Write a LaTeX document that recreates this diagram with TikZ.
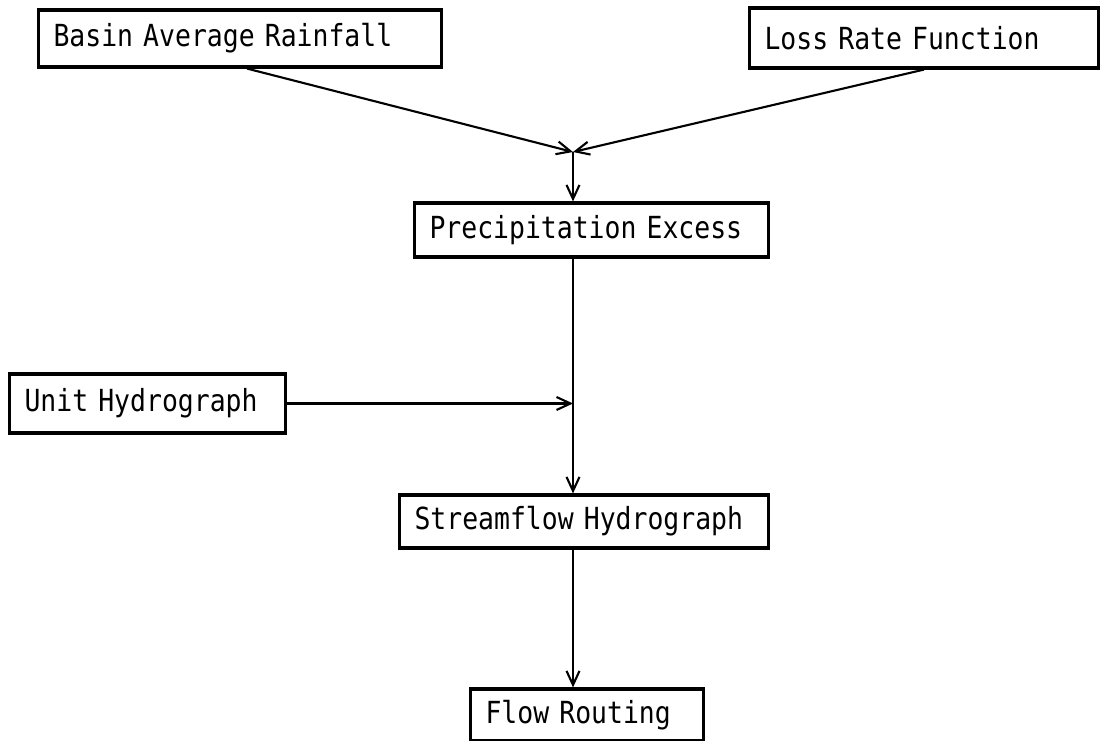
\documentclass[tikz,border=0pt]{standalone}
\usepackage{fontspec}
\newfontfamily\boxfont{DejaVu Sans Mono}[FakeStretch=0.87]
\usetikzlibrary{arrows.meta}

\begin{document}
\begin{tikzpicture}[font={\boxfont\fontsize{17.3}{20}\selectfont},
	box/.style={draw, line width=1.8pt, inner xsep=0.3cm, inner ysep=0pt, minimum height=1.1cm, align=left},
	link/.style={line width=1.2pt, arrows={-{Straight Barb[length=2.8mm,width=2.6mm]}}}]
	\useasboundingbox (0,0) rectangle (22.06,-14.82);
	\node [box, text width=7.46cm, minimum height=1.14cm] (basin) at (4.80,-0.77) {Basin Average Rainfall};
	\node [box, text width=6.38cm, minimum height=1.2cm] (loss) at (18.48,-0.76) {Loss Rate Function};
	\node [box, text width=6.48cm, minimum height=1.08cm] (precip) at (11.83,-4.60) {Precipitation Excess};
	\node [box, text width=4.92cm, minimum height=1.18cm] (unit) at (2.95,-8.07) {Unit Hydrograph};
	\node [box, text width=6.78cm, minimum height=1.06cm] (stream) at (11.68,-10.43) {Streamflow Hydrograph};
	\node [box, text width=4.06cm, minimum height=1.04cm] (routing) at (11.74,-14.30) {Flow Routing};
	\coordinate (junc) at (11.46,-3.04);
	\coordinate (merge) at (11.46,-8.07);
	\draw [link] ([xshift=0.14cm]basin.south) -- (junc);
	\draw [link] (loss.south) -- (junc);
	\draw [link] (junc) -- (precip.north -| junc);
	\draw [link] (precip.south -| junc) -- (stream.north -| junc);
	\draw [link] (unit.east) -- (merge);
	\draw [link] (stream.south -| junc) -- (routing.north -| junc);
\end{tikzpicture}
\end{document}
